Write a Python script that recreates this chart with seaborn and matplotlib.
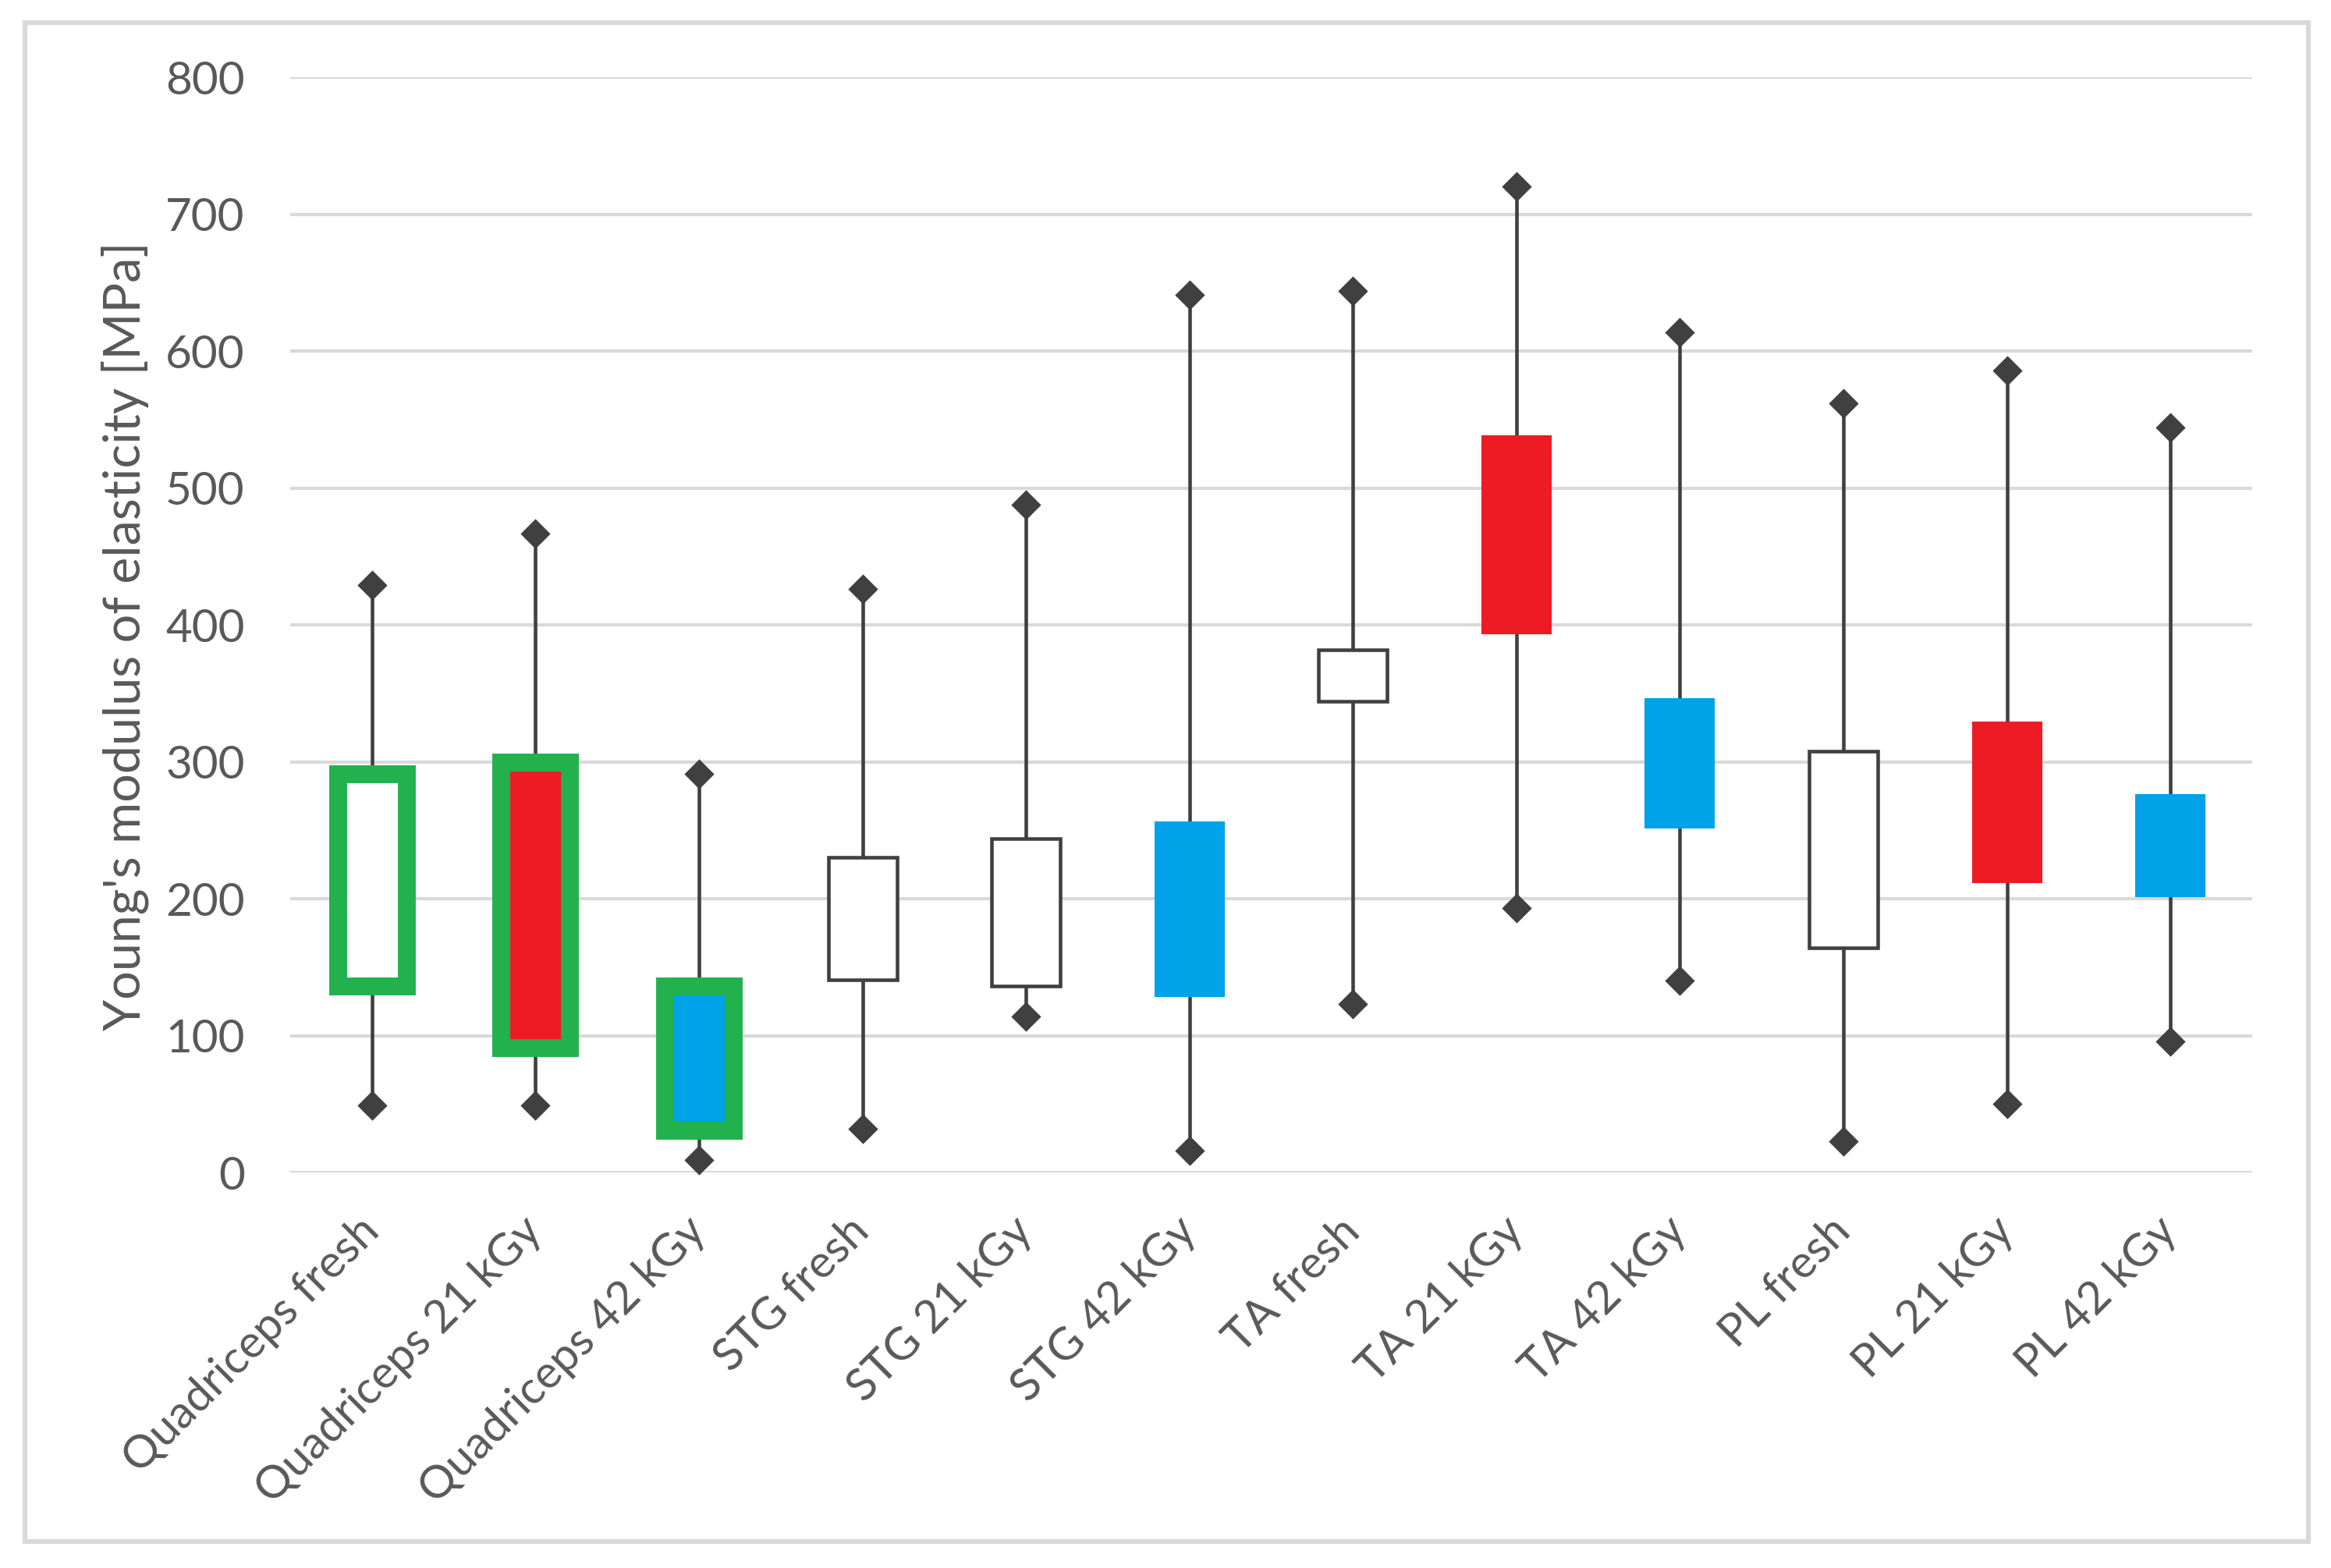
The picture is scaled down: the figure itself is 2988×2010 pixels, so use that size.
import numpy as np
import pandas as pd
import matplotlib
matplotlib.use("Agg")
import matplotlib.pyplot as plt
import seaborn as sns
from matplotlib.patches import Rectangle

sns.set_theme(style="white")
plt.rcParams['font.family'] = ['Lato', 'DejaVu Sans']

categories = ["Quadriceps fresh", "Quadriceps 21 kGy", "Quadriceps 42 kGy",
              "STG fresh", "STG 21 kGy", "STG 42 kGy",
              "TA fresh", "TA 21 kGy", "TA 42 kGy",
              "PL fresh", "PL 21 kGy", "PL 42 kGy"]
mins = [49, 49, 9, 32, 114, 16, 123, 193, 140, 23, 50, 96]
q1s = [136, 91, 31, 141, 136, 129, 344, 394, 252, 164, 212, 202]
q3s = [291, 300, 136, 230, 244, 256, 382, 538, 346, 308, 329, 276]
maxs = [429, 467, 291, 426, 488, 641, 644, 720, 614, 562, 586, 544]

WHITE, RED, BLUE, GREEN, DARK = "#FFFFFF", "#ED1C24", "#00A2E8", "#22B14C", "#404040"
fill_colors = [WHITE, RED, BLUE, WHITE, WHITE, BLUE, WHITE, RED, BLUE, WHITE, RED, BLUE]
edge_colors = [GREEN, GREEN, GREEN, DARK, DARK, BLUE, DARK, RED, BLUE, DARK, RED, BLUE]
edge_widths = [5.5, 5.5, 5.5, 1.1, 1.1, 0.5, 1.1, 0.5, 0.5, 1.1, 0.5, 0.5]

# five-number rows: min, q1, q1, q3, max -> quartiles exactly q1/q3, whiskers to min/max
rows = []
for c, lo, a, b, hi in zip(categories, mins, q1s, q3s, maxs):
    for v in (lo, a, a, b, hi):
        rows.append((c, v))
df = pd.DataFrame(rows, columns=["category", "value"])

fig = plt.figure(figsize=(9.96, 6.7), dpi=300)
ax = fig.add_axes([0.1245, 0.2522, 0.8417, 0.6985])

sns.boxplot(data=df, x="category", y="value", hue="category", order=categories,
            hue_order=categories, palette=dict(zip(categories, fill_colors)),
            saturation=1, width=0.42, whis=(0, 100), showcaps=False, fliersize=0,
            linecolor=DARK, linewidth=1.1, dodge=False, legend=False,
            medianprops={"linewidth": 0, "color": "none"}, ax=ax)

for ln in ax.lines:
    ln.set_zorder(1.5)
    ln.set_color(DARK)
for p in ax.patches:
    v = p.get_path().vertices
    xc = (v[:, 0].min() + v[:, 0].max()) / 2
    i = int(round(xc))
    p.set_edgecolor(edge_colors[i])
    p.set_linewidth(edge_widths[i])
    p.set_joinstyle("miter")
    p.set_zorder(2.5)

for vals in (mins, maxs):
    sns.stripplot(x=categories, y=vals, order=categories, jitter=False, marker="D",
                  color=DARK, size=6.5, linewidth=0, ax=ax, zorder=4, clip_on=False)

ax.set_xlim(-0.5, 11.5)
ax.set_ylim(0, 800)
ax.set_yticks(range(0, 801, 100))
ax.yaxis.grid(True, color="#D9D9D9", linewidth=1.0)
ax.xaxis.grid(False)
ax.set_axisbelow(True)
for s in ax.spines.values():
    s.set_visible(False)

ax.tick_params(axis="both", length=0, labelsize=14, labelcolor="#595959")
ax.tick_params(axis="y", pad=14)
ax.tick_params(axis="x", pad=16)
ax.set_xticks(range(len(categories)))
ax.set_xticklabels(categories)
for lbl in ax.get_xticklabels():
    lbl.set_rotation(45)
    lbl.set_ha("right")
    lbl.set_va("center")
    lbl.set_rotation_mode("anchor")
ax.set_xlabel("")
ax.set_ylabel("Young's modulus of elasticity [MPa]", fontsize=15.5, color="#595959")
ax.yaxis.set_label_coords(-0.072, 0.49)

fig.patches.append(Rectangle((32 / 2988, 34 / 2010), (2959 - 32) / 2988, (1976 - 29) / 2010,
                             transform=fig.transFigure, fill=False,
                             edgecolor="#D9D9D9", linewidth=1.5))

fig.savefig("out.png", dpi=300, facecolor="white")
